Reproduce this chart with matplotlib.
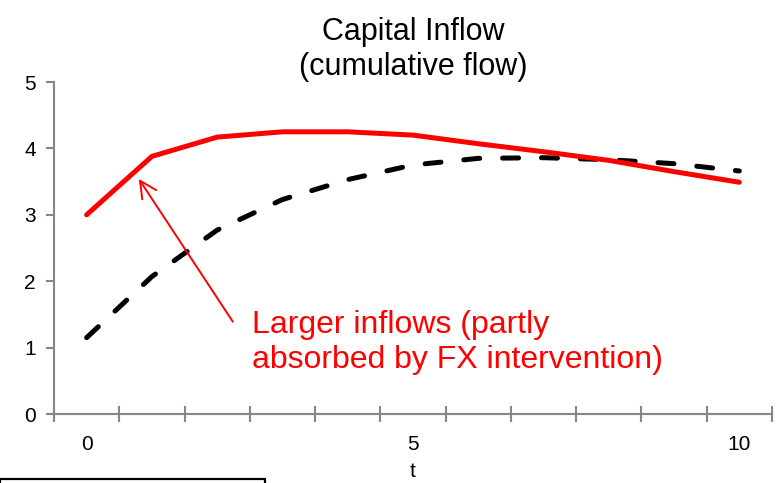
import matplotlib.pyplot as plt
from matplotlib.patches import Rectangle

plt.rcParams['font.family'] = ['Liberation Sans', 'DejaVu Sans']
plt.rcParams['lines.scale_dashes'] = False

# data
t = list(range(11))
larger_inflows = [3.0, 3.88, 4.17, 4.25, 4.25, 4.2, 4.07, 3.95, 3.82, 3.65, 3.49]
baseline = [1.15, 2.07, 2.77, 3.23, 3.53, 3.75, 3.85, 3.86, 3.83, 3.77, 3.66]
yticks = [0, 1, 2, 3, 4, 5]
xtick_labels = [0, 5, 10]

fig = plt.figure(figsize=(7.78, 4.83), dpi=100)
ax = fig.add_axes([54 / 778, 1 - 414 / 483, (772 - 54) / 778, (414 - 82) / 483])

ax.plot(t, baseline, color='black', lw=3.6, dashes=(11.5, 16.5),
        dash_capstyle='round', solid_capstyle='round')
ax.plot(t, larger_inflows, color='#ff0000', lw=3.6, solid_capstyle='round')

ax.set_xlim(-0.5, 10.5)
ax.set_ylim(0, 5)

gray = '#868686'
for s in ['top', 'right']:
    ax.spines[s].set_visible(False)
for s in ['left', 'bottom']:
    ax.spines[s].set_color(gray)
    ax.spines[s].set_linewidth(1.5)

ax.set_yticks(yticks)
ax.tick_params(axis='y', direction='out', length=6, width=1.5, color=gray,
               labelsize=15, pad=7)
ax.set_xticks(xtick_labels)
ax.set_xticks([i - 0.5 for i in range(12)], minor=True)
ax.tick_params(axis='x', which='major', length=0, labelsize=15, pad=15)
ax.tick_params(axis='x', which='minor', direction='inout', length=11,
               width=1.5, color=gray)
ax.set_xlabel('t', fontsize=15, labelpad=6)

ax.set_title('Capital Inflow\n(cumulative flow)', fontsize=22, pad=5,
             linespacing=1.22)

# annotation
ax.annotate('', xy=(0.8, 3.54), xytext=(2.24, 1.39),
            arrowprops=dict(arrowstyle='->', color='#ff0000', lw=1.4,
                            mutation_scale=30, shrinkA=0, shrinkB=0))
ax.text(2.54, 1.08, 'Larger inflows (partly\nabsorbed by FX intervention)',
        color='#ff0000', fontsize=23, va='center', ha='left', linespacing=1.2)

# cut-off box at bottom-left
fig.patches.append(Rectangle((0, -0.05), 265 / 778, 0.05 + 4 / 483,
                             transform=fig.transFigure, fill=False,
                             edgecolor='black', lw=1.6))

fig.savefig('out.png', dpi=100)
